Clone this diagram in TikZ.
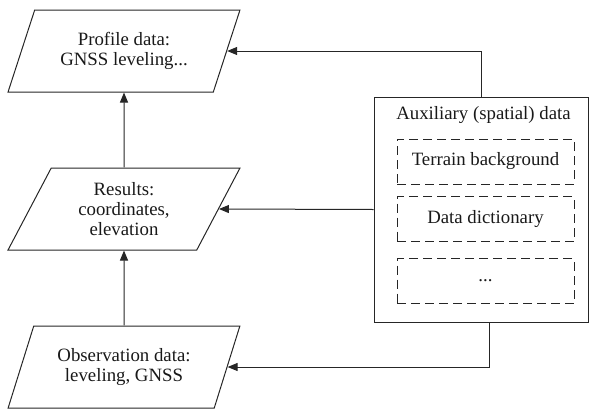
\documentclass[tikz,border=0pt]{standalone}
\usepackage{fontspec}
\setmainfont{Liberation Serif}
\usetikzlibrary{arrows.meta,shapes.geometric}

\begin{document}
\begin{tikzpicture}[x=1pt, y=-1pt,
      every node/.style={font=\fontsize{18.8}{20}\selectfont, text=black!90},
      datum/.style={trapezium, trapezium left angle=63, trapezium right angle=117, trapezium stretches=true,
        draw=black!85, line width=1pt, align=center, inner sep=0pt, minimum width=232pt, minimum height=82pt},
      aux/.style={draw=black!85, line width=1pt, minimum width=214pt, minimum height=225pt, inner sep=0pt},
      part/.style={draw=black!85, line width=1pt, dash pattern=on 9pt off 5pt, minimum width=177pt, minimum height=45pt, inner sep=0pt},
      arrow/.style={-{Triangle[length=10pt, width=8pt]}, draw=black!85, line width=1pt}]
    \useasboundingbox (0,0) rectangle (589,410);
    \node[datum] (profile) at (124, 51) {Profile data:\\GNSS leveling...};
    \node[datum] (results) at (124, 209) {Results:\\coordinates,\\elevation};
    \node[datum] (observ) at (124, 367) {Observation data:\\leveling, GNSS};
    \node[aux] (auxdata) at (481, 209.5) {};
    \node (auxtitle) at (483.5, 115) {Auxiliary (spatial) data};
    \node[part] (terrain) at (485.5, 161.5) {Terrain background};
    \node[part] (dict) at (485.5, 219) {Data dictionary};
    \node[part] (more) at (485.5, 281) {...};
    \draw[arrow] (results) -- (profile);
    \draw[arrow] (observ) -- (results);
    \draw[arrow] (auxdata.north) |- (profile.east);
    \draw[arrow] (auxdata.west) -- (results.east);
    \draw[arrow] ([xshift=8pt]auxdata.south) |- (observ.east);
  \end{tikzpicture}
\end{document}
